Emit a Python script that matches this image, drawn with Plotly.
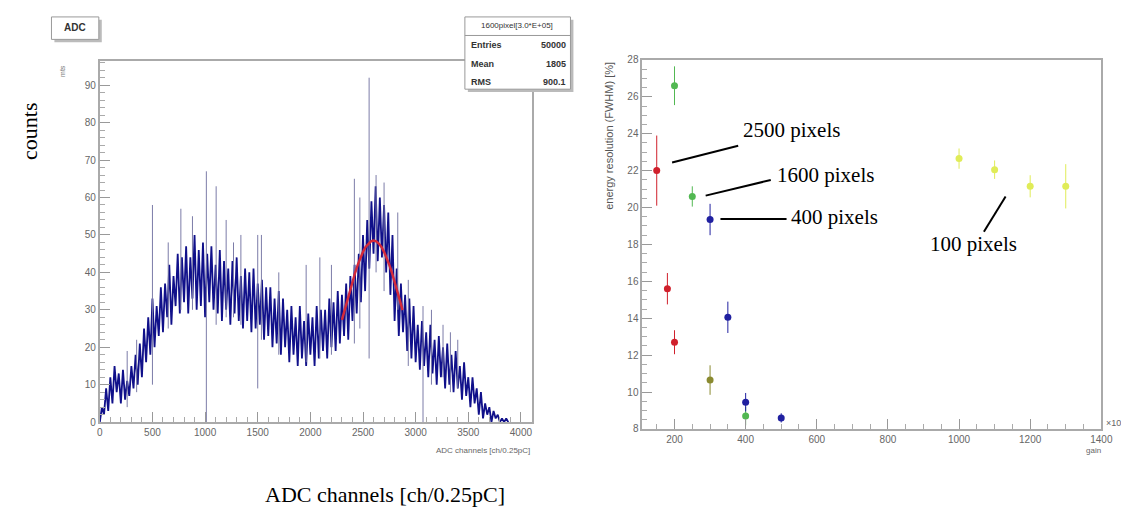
import plotly.graph_objects as go

W, H = 1129, 508

# ---- left panel: ADC spectrum, 1600 pixel at gain 3.0E+05 ----
bin_start = 0
bin_width = 20
adc_counts = [
    0, 4, 2, 9, 3, 12, 5, 15, 8, 13,
    5, 14, 6, 11, 7, 15, 9, 18, 10, 21,
    12, 25, 16, 28, 18, 33, 20, 31, 23, 36,
    24, 37, 28, 42, 26, 39, 31, 45, 29, 44,
    32, 47, 29, 44, 33, 50, 30, 46, 31, 48,
    28, 45, 32, 47, 30, 42, 29, 46, 27, 43,
    30, 41, 26, 43, 29, 44, 27, 39, 25, 41,
    27, 40, 24, 41, 25, 37, 26, 38, 22, 36,
    23, 36, 20, 33, 21, 35, 18, 33, 20, 30,
    16, 31, 18, 28, 15, 31, 17, 27, 15, 29,
    18, 28, 15, 31, 17, 30, 19, 30, 17, 33,
    20, 32, 19, 35, 21, 34, 23, 37, 22, 39,
    27, 42, 29, 45, 32, 50, 35, 54, 41, 59,
    45, 63, 43, 60, 44, 58, 40, 56, 34, 50,
    27, 41, 23, 37, 24, 34, 19, 33, 17, 31,
    16, 26, 14, 27, 15, 24, 12, 26, 13, 22,
    10, 23, 12, 20, 9, 21, 10, 18, 8, 19,
    9, 15, 6, 16, 7, 12, 4, 12, 5, 9,
    2, 8, 1, 5, 2, 4, 0, 3, 1, 2,
    0, 1, 0, 1, 0,
]
adc_channels = [bin_start + i * bin_width for i in range(len(adc_counts))]

# single outlier bins (thin spikes)
spike_ch = [260, 350, 500, 650, 770, 880, 1012, 1105, 1200, 1270, 1340,
            1500, 1535, 1700, 1960, 2090, 2200, 2418, 2470, 2558, 2624,
            2700, 2830, 2930, 3070, 3150, 3260, 3330, 3400]
spike_lo = [4, 8, 10, 25, 30, 30, 0, 26, 28, 28, 26,
            9, 22, 18, 16, 17, 18, 21, 25, 17, 40,
            35, 30, 15, 0, 10, 12, 8, 9]
spike_hi = [19, 22, 58, 48, 57, 55, 67, 63, 54, 48, 50,
            50, 50, 40, 42, 44, 42, 65, 60, 92, 66,
            64, 56, 38, 31, 30, 26, 24, 22]

# gaussian fit around the peak
fit_ch = [2300, 2325, 2350, 2375, 2400, 2425, 2450, 2475, 2500, 2525,
          2550, 2575, 2600, 2625, 2650, 2675, 2700, 2725, 2750, 2775,
          2800, 2825, 2850, 2875]
fit_val = [27.3, 29.9, 32.5, 35.1, 37.6, 39.9, 42.0, 43.9, 45.5, 46.8,
           47.7, 48.3, 48.5, 48.3, 47.7, 46.8, 45.5, 43.9, 42.0, 39.9,
           37.6, 35.1, 32.5, 29.9]

stats_title = "1600pixel[3.0*E+05]"
stats_names = ["Entries", "Mean", "RMS"]
stats_values = ["50000", "1805", "900.1"]

# ---- right panel: energy resolution vs gain ----
px2500_gain = [150, 180, 200]
px2500_res = [22.0, 15.6, 12.7]
px2500_err = [1.9, 0.85, 0.65]

px1600_gain = [200, 250, 400]
px1600_res = [26.6, 20.6, 8.7]
px1600_err = [1.05, 0.55, 0.5]

px400_gain = [300, 350, 400, 500]
px400_res = [19.35, 14.05, 9.45, 8.6]
px400_err = [0.85, 0.85, 0.5, 0.25]

px900_gain = [300]
px900_res = [10.65]
px900_err = [0.8]

px100_gain = [1000, 1100, 1200, 1300]
px100_res = [22.65, 22.05, 21.15, 21.15]
px100_err = [0.55, 0.5, 0.6, 1.2]


def fx(x):
    return x / W


def fy(y):
    return 1 - y / H


fig = go.Figure()

fig.add_trace(go.Scatter(x=adc_channels, y=adc_counts, mode="lines",
                         line=dict(color="#10108a", width=1.8),
                         xaxis="x", yaxis="y"))

sx, sy = [], []
for c, lo, hi in zip(spike_ch, spike_lo, spike_hi):
    sx += [c, c, None]
    sy += [lo, hi, None]
fig.add_trace(go.Scatter(x=sx, y=sy, mode="lines",
                         line=dict(color="#7c7ca8", width=1),
                         xaxis="x", yaxis="y"))

fig.add_trace(go.Scatter(x=fit_ch, y=fit_val, mode="lines",
                         line=dict(color="#d42a3a", width=2.5),
                         xaxis="x", yaxis="y"))

groups = [
    (px100_gain, px100_res, px100_err, "#e0ec58"),
    (px2500_gain, px2500_res, px2500_err, "#d0202c"),
    (px1600_gain, px1600_res, px1600_err, "#52b852"),
    (px900_gain, px900_res, px900_err, "#8a8a30"),
    (px400_gain, px400_res, px400_err, "#2020a0"),
]
for g, r, e, col in groups:
    fig.add_trace(go.Scatter(
        x=g, y=r, mode="markers",
        marker=dict(color=col, size=7),
        error_y=dict(type="data", array=e, color=col, thickness=1, width=0),
        xaxis="x2", yaxis="y2"))

tickfont = dict(family="Liberation Sans, Arial", size=10, color="#666")
axis_common = dict(showgrid=False, zeroline=False, showline=True, mirror=True,
                   linecolor="#aaa", linewidth=2, ticks="inside", ticklen=10,
                   tickcolor="#999", tickfont=tickfont)

fig.update_layout(
    width=W, height=H,
    margin=dict(l=0, r=0, t=0, b=0),
    paper_bgcolor="white", plot_bgcolor="white",
    showlegend=False,
    xaxis=dict(domain=[fx(90), fx(528)], range=[0, 4105], dtick=500, tick0=0,
               anchor="y",
               minor=dict(ticks="inside", ticklen=5, dtick=100, tickcolor="#aaa"),
               **axis_common),
    yaxis=dict(domain=[fy(418), fy(48)], range=[0, 96.5], dtick=10, tick0=0,
               anchor="x",
               minor=dict(ticks="inside", ticklen=5, dtick=2, tickcolor="#aaa"),
               **axis_common),
    xaxis2=dict(domain=[fx(640), fx(1105)], range=[110, 1400], dtick=200,
                tick0=0, anchor="y2",
                minor=dict(ticks="inside", ticklen=5, dtick=50, tickcolor="#aaa"),
                **axis_common),
    yaxis2=dict(domain=[fy(425), fy(47)], range=[8, 28], dtick=2, tick0=0,
                anchor="x2",
                minor=dict(ticks="inside", ticklen=5, dtick=0.5, tickcolor="#aaa"),
                **axis_common),
)

shapes = []
annotations = []


def box(x0, y0, x1, y1):
    shapes.append(dict(type="rect", xref="paper", yref="paper",
                       x0=fx(x0 + 3), x1=fx(x1 + 3), y0=fy(y1 + 3), y1=fy(y0 + 3),
                       fillcolor="#bbb", line=dict(width=0)))
    shapes.append(dict(type="rect", xref="paper", yref="paper",
                       x0=fx(x0), x1=fx(x1), y0=fy(y1), y1=fy(y0),
                       fillcolor="white", line=dict(color="#999", width=1)))


def text(x, y, s, size, color="black", family="Liberation Sans, Arial",
         xanchor="center", angle=0):
    annotations.append(dict(xref="paper", yref="paper", x=fx(x), y=fy(y),
                            text=s, showarrow=False, xanchor=xanchor,
                            yanchor="middle", textangle=angle,
                            font=dict(family=family, size=size, color=color)))


def seg(x0, y0, x1, y1, width=2):
    shapes.append(dict(type="line", xref="paper", yref="paper",
                       x0=fx(x0), y0=fy(y0), x1=fx(x1), y1=fy(y1),
                       line=dict(color="black", width=width)))


# ADC title box
box(41, 3, 89, 26)
text(65, 14, "<b>ADC</b>", 10, "#333")

# stats box
box(460, 3, 567, 77)
shapes.append(dict(type="line", xref="paper", yref="paper",
                   x0=fx(460), x1=fx(567), y0=fy(22), y1=fy(22),
                   line=dict(color="#999", width=1)))
text(513, 12, stats_title, 8, "#333")
for i, (n, v) in enumerate(zip(stats_names, stats_values)):
    text(464, 32 + i * 19, "<b>" + n + "</b>", 9, "#333", xanchor="left")
    text(565, 32 + i * 19, "<b>" + v + "</b>", 9, "#333", xanchor="right")

# small ROOT axis titles
text(52, 58, "mts", 7, "#777", angle=-90)
text(528, 447, "ADC channels [ch/0.25pC]", 8, "#666", xanchor="right")
annotations.append(dict(xref="paper", yref="paper", x=fx(606), y=fy(47),
                        text="energy resolution (FWHM) [%]", showarrow=False,
                        xanchor="center", yanchor="top", textangle=-90,
                        font=dict(family="Liberation Sans, Arial", size=11,
                                  color="#555")))
text(1107, 447, "gain", 8, "#666", xanchor="right")
text(1108, 418, "×10<sup>3</sup>", 9, "#666", xanchor="left")

# overlay captions
serif = "Liberation Serif, Times New Roman"
text(18, 120, "counts", 22, "black", family=serif, angle=-90)
text(255, 492, "ADC channels [ch/0.25pC]", 22, "black", family=serif,
     xanchor="left")

# pixel labels with leader lines
seg(670, 152, 737, 135)
text(740, 119, "2500 pixels", 21, "black", family=serif, xanchor="left")
seg(704, 186, 770, 170)
text(774, 165, "1600 pixels", 21, "black", family=serif, xanchor="left")
seg(719, 210, 786, 210)
text(788, 208, "400 pixels", 21, "black", family=serif, xanchor="left")
seg(1008, 187, 986, 223)
text(975, 236, "100 pixels", 21, "black", family=serif)

fig.update_layout(shapes=shapes, annotations=annotations)

fig.write_html("out.html")
